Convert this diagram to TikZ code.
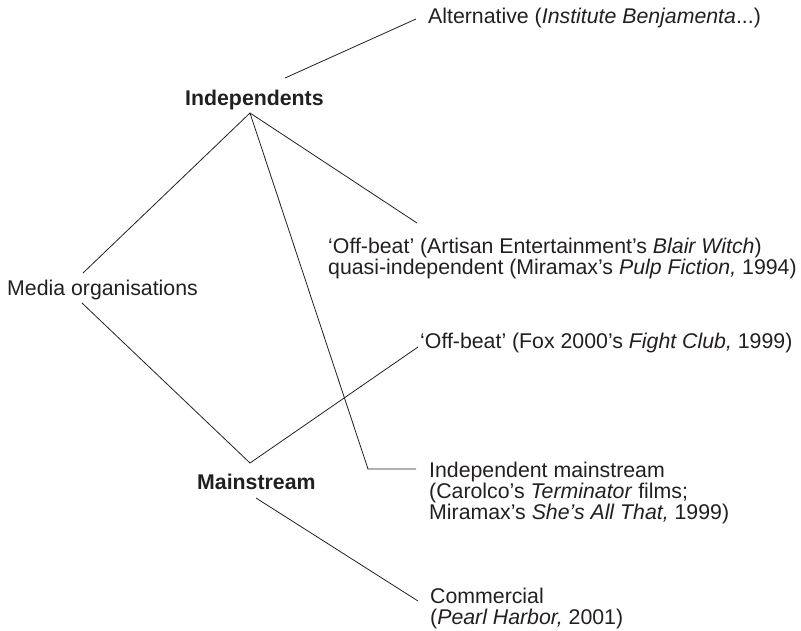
\documentclass[tikz,border=0pt]{standalone}
\usepackage{fontspec}
\setmainfont{Liberation Sans}
\definecolor{ink}{RGB}{35,31,32}
\begin{document}
\begin{tikzpicture}[x=1pt,y=-1pt,
  txt/.style={inner sep=0pt, anchor=base west, text=ink, font=\fontsize{21.3}{20}\selectfont},
  bold/.style={txt, font=\fontsize{21.3}{20}\selectfont\bfseries},
  link/.style={draw=ink, line width=0.8pt}]
\useasboundingbox (0,0) rectangle (801,630);
% text nodes
\node[txt] (alt) at (428,23) {Alternative (\textit{Institute Benjamenta}...)};
\node[bold] (ind) at (185,105) {Independents};
\node[txt] (media) at (7,295) {Media organisations};
\node[txt] (artisan) at (328,253) {\begin{tabular}[t]{@{}l@{}}‘Off-beat’ (Artisan Entertainment’s \textit{Blair Witch})\\quasi-independent (Miramax’s \textit{Pulp Fiction,} 1994)\end{tabular}};
\node[txt] (fight) at (420,348) {‘Off-beat’ (Fox 2000’s \textit{Fight Club,} 1999)};
\node[bold] (main) at (197,489) {Mainstream};
\node[txt] (indmain) at (429,477) {\begin{tabular}[t]{@{}l@{}}Independent mainstream\\(Carolco’s \textit{Terminator} films;\\Miramax’s \textit{She’s All That,} 1999)\end{tabular}};
\node[txt] (comm) at (430,603) {\begin{tabular}[t]{@{}l@{}}Commercial\\(\textit{Pearl Harbor,} 2001)\end{tabular}};
% connector end points
\coordinate (indTop) at (285,78);
\coordinate (altEnd) at (416,19);
\coordinate (indApex) at (250,113);
\coordinate (mediaTop) at (83,273);
\coordinate (mediaBot) at (82,303);
\coordinate (mainApex) at (250,463);
\coordinate (artisanEnd) at (417,223);
\coordinate (bend) at (368,469);
\coordinate (indmainEnd) at (416,469);
\coordinate (fightEnd) at (418,347);
\coordinate (mainBot) at (256,498);
\coordinate (commEnd) at (418,601);
% connectors
\draw[link] (indTop) -- (altEnd);
\draw[link] (mediaTop) -- (indApex) -- (artisanEnd);
\draw[link] (indApex) -- (bend) -- (indmainEnd);
\draw[link] (mediaBot) -- (mainApex) -- (fightEnd);
\draw[link] (mainBot) -- (commEnd);
\end{tikzpicture}
\end{document}
